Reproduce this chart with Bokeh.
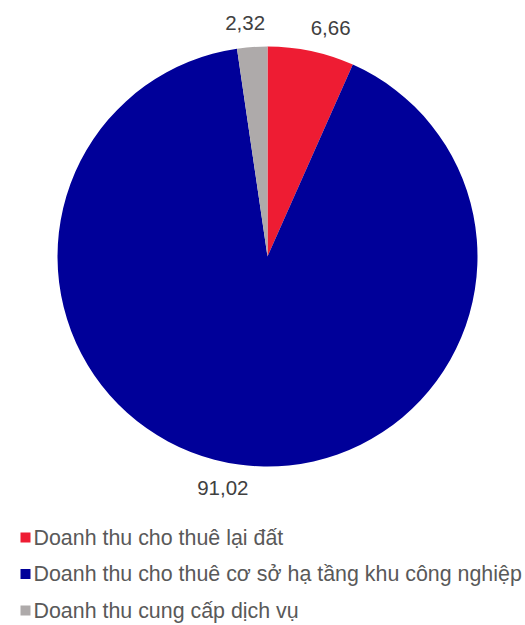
import numpy as np
from bokeh.plotting import figure
from bokeh.models import Range1d, ColumnDataSource
from bokeh.core.properties import value
from bokeh.embed import file_html
from bokeh.resources import INLINE

categories = ["Doanh thu cho thuê lại đất",
              "Doanh thu cho thuê cơ sở hạ tầng khu công nghiệp",
              "Doanh thu cung cấp dịch vụ"]
values = [6.66, 91.02, 2.32]
labels = ["6,66", "91,02", "2,32"]
colors = ["#EE1C33", "#000099", "#AEAAAA"]

W, H = 525, 625
p = figure(width=W, height=H, output_backend="svg", toolbar_location=None,
           x_range=Range1d(0, W), y_range=Range1d(0, H), min_border=0)
p.axis.visible = False
p.grid.visible = False
p.outline_line_color = None
p.background_fill_color = "white"
p.border_fill_color = "white"

def sy(y):
    """screen-y (from top) to data-y"""
    return H - np.asarray(y, dtype=float)

cx, cy, r = 267, 256, 210
vals = np.array(values, dtype=float)
frac = vals / vals.sum()
cum = np.concatenate([[0], np.cumsum(frac)])
start = np.pi / 2 - cum[:-1] * 2 * np.pi
end = np.pi / 2 - cum[1:] * 2 * np.pi
src = ColumnDataSource(dict(start=start, end=end, color=colors))
p.wedge(x=cx, y=float(sy(cy)), radius=r, start_angle="start", end_angle="end",
        direction="clock", fill_color="color", line_color=None, source=src)

# data labels (outside end)
mid = (cum[:-1] + cum[1:]) * np.pi  # angle from top, clockwise
fs = 20.5
lx, ly = [], []
for m, t in zip(mid, labels):
    s, c = np.sin(m), np.cos(m)
    px = cx + (r + 10) * s
    py = cy - (r + 10) * c
    hw = len(t) * 0.5 * fs / 2 * 0.85
    lx.append(px + hw * np.clip(5 * s, -1, 1))
    ly.append(py - 14 * c)
p.text(x=lx, y=sy(ly), text=labels, text_align="center", text_baseline="middle",
       text_font=value("Liberation Sans"), text_font_size=f"{fs}px",
       text_color="#404040")

# legend
leg_y = [537 + i * 36.5 for i in range(len(categories))]
p.scatter(x=[25] * len(categories), y=sy(leg_y), marker="square", size=10,
          fill_color=colors, line_color=None)
p.text(x=[33] * len(categories), y=sy(leg_y), text=categories, text_align="left",
       text_baseline="middle", text_font=value("Liberation Sans"),
       text_font_size="21.4px", text_color="#595959")

open("out.html", "w").write(file_html(p, INLINE))
